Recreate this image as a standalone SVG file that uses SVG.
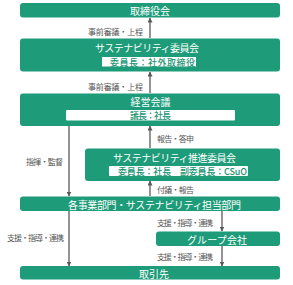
<svg xmlns="http://www.w3.org/2000/svg" width="293" height="285" viewBox="0 0 293 285">
<style>
.box{fill:#1e9c79;}
.inner{fill:#ffffff;}
.t{font-family:"Noto Sans CJK JP","Noto Sans",sans-serif;font-size:10px;fill:#ffffff;text-anchor:middle;dominant-baseline:central;}
.it{font-family:"Noto Sans CJK JP","Noto Sans",sans-serif;font-size:9px;font-weight:500;fill:#1a9574;text-anchor:middle;dominant-baseline:central;}
.lb{font-family:"Noto Sans CJK JP","Noto Sans",sans-serif;font-size:8px;fill:#555555;dominant-baseline:central;}
.ln{stroke:#5a5a5a;stroke-width:1.3;fill:none;marker-end:url(#ah);}
</style>
<defs>
<marker id="ah" viewBox="0 0 10 10" refX="9" refY="5" markerWidth="5" markerHeight="5" orient="auto" markerUnits="userSpaceOnUse">
<path d="M0,0 L10,5 L0,10 z" fill="#5a5a5a"/>
</marker>
</defs>
<rect width="293" height="285" fill="#ffffff"/>
<g id="connectors">
<line class="ln" x1="150" y1="38" x2="150" y2="18"/>
<text class="lb" x="88" y="31" textLength="55">事前審議・上程</text>
<line class="ln" x1="150" y1="93" x2="150" y2="72"/>
<text class="lb" x="88" y="86" textLength="55">事前審議・上程</text>
<line class="ln" x1="150" y1="148" x2="150" y2="126"/>
<text class="lb" x="157" y="138" textLength="37">報告・答申</text>
<line class="ln" x1="69" y1="126" x2="69" y2="196"/>
<text class="lb" x="26" y="161" textLength="37">指揮・監督</text>
<line class="ln" x1="150" y1="196" x2="150" y2="181"/>
<text class="lb" x="157" y="189" textLength="37">付議・報告</text>
<line class="ln" x1="222" y1="211" x2="222" y2="231"/>
<text class="lb" x="157" y="222" textLength="56">支援・指導・連携</text>
<line class="ln" x1="222" y1="246" x2="222" y2="266"/>
<text class="lb" x="157" y="256" textLength="56">支援・指導・連携</text>
<line class="ln" x1="69" y1="211" x2="69" y2="266"/>
<text class="lb" x="7" y="237" textLength="57">支援・指導・連携</text>
</g>
<g id="board">
<rect class="box" x="20" y="3" width="260" height="14.5" rx="3"/>
<text class="t" x="150" y="10.5">取締役会</text>
</g>
<g id="sus-committee">
<rect class="box" x="20" y="38.5" width="260" height="33" rx="3"/>
<text class="t" x="147" y="47" textLength="104">サステナビリティ委員会</text>
<rect class="inner" x="102" y="57" width="94" height="9.5"/>
<text class="it" x="152.5" y="62" textLength="85">委員長：社外取締役</text>
</g>
<g id="mgmt">
<rect class="box" x="20" y="93.5" width="260" height="32.5" rx="3"/>
<text class="t" x="150.5" y="101.5">経営会議</text>
<rect class="inner" x="66" y="110" width="169" height="10.5" rx="1"/>
<text class="it" x="150.5" y="115.5" textLength="41">議長：社長</text>
</g>
<g id="promo">
<rect class="box" x="85" y="148.5" width="195" height="32.5" rx="3"/>
<text class="t" x="174.5" y="157.5" textLength="123">サステナビリティ推進委員会</text>
<rect class="inner" x="109" y="166" width="139" height="10" rx="1"/>
<text class="it" x="182.5" y="171" textLength="129">委員長：社長　副委員長：CSuO</text>
</g>
<g id="depts">
<rect class="box" x="20" y="196.5" width="260" height="14.5" rx="3"/>
<text class="t" x="154.5" y="204" textLength="173">各事業部門・サステナビリティ担当部門</text>
</g>
<g id="group">
<rect class="box" x="156" y="231.5" width="124" height="14.5" rx="3"/>
<text class="t" x="217" y="239.5" textLength="60">グループ会社</text>
</g>
<g id="partners">
<rect class="box" x="20" y="266" width="260" height="13.5" rx="3"/>
<text class="t" x="154" y="273">取引先</text>
</g>
</svg>
